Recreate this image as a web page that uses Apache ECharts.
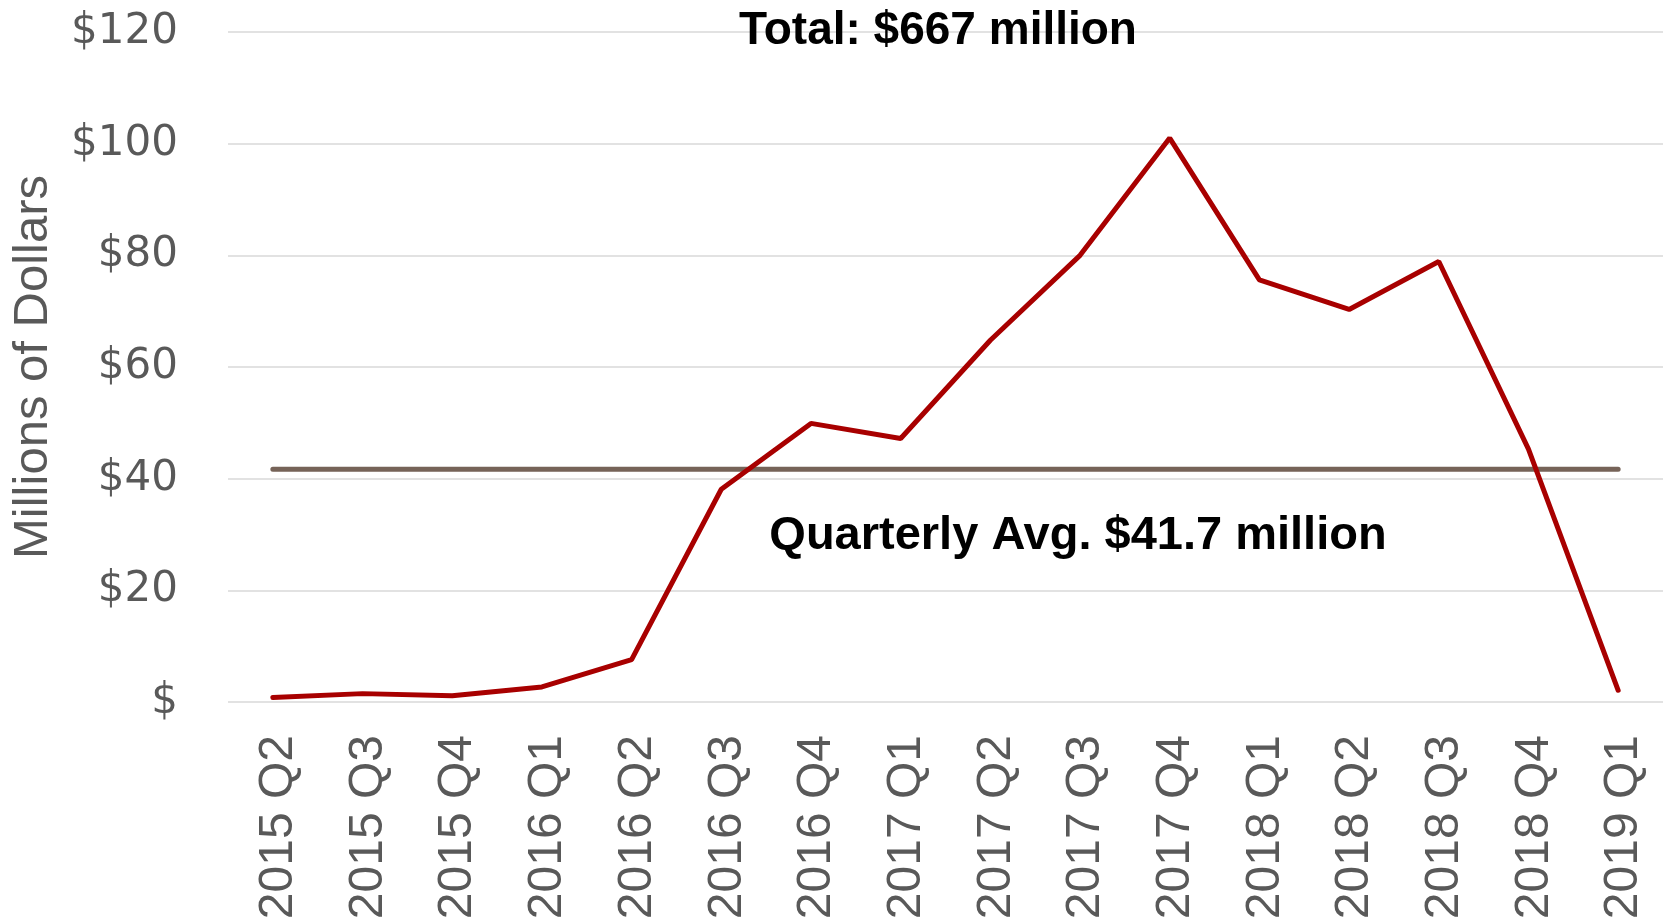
<!DOCTYPE html>
<html>
<head>
<meta charset="utf-8">
<script src="https://cdn.jsdelivr.net/npm/echarts@6/dist/echarts.min.js"></script>
<style>
  html, body { margin: 0; padding: 0; background: #fff; }
  #chart { width: 1668px; height: 920px; }
</style>
</head>
<body>
<div id="chart"></div>
<script>
const quarters = [
    '2015 Q2', '2015 Q3', '2015 Q4', '2016 Q1', '2016 Q2', '2016 Q3', '2016 Q4', '2017 Q1',
    '2017 Q2', '2017 Q3', '2017 Q4', '2018 Q1', '2018 Q2', '2018 Q3', '2018 Q4', '2019 Q1',
];
// millions of dollars per quarter
const amounts = [0.8, 1.5, 1.1, 2.7, 7.6, 38.1, 49.9, 47.2, 64.8, 80.0, 101.0, 75.6, 70.3, 78.9, 45.3, 2.1];
const quarterlyAvg = 41.7;
const totalText = 'Total: $667 million';
const avgText = 'Quarterly Avg. $41.7 million';

const labelColor = '#595959';

const option = {
    animation: false,
    grid: {
        left: 228,
        right: 5,
        top: 32,
        bottom: 218,
        outerBoundsMode: 'none',
    },
    xAxis: {
        type: 'category',
        data: quarters,
        boundaryGap: true,
        axisLine: { show: false },
        axisTick: { show: false },
        axisLabel: {
            rotate: 90,
            margin: 33,
            interval: 0,
            verticalAlign: 'top',
            lineHeight: 12,
            color: labelColor,
            fontFamily: 'Liberation Sans',
            fontSize: 48,
        },
    },
    yAxis: {
        type: 'value',
        min: 0,
        max: 120,
        interval: 20,
        name: 'Millions of Dollars',
        nameLocation: 'middle',
        nameGap: 170,
        nameRotate: 90,
        nameTextStyle: {
            color: labelColor,
            fontFamily: 'Liberation Sans',
            fontSize: 49,
        },
        axisLine: { show: false },
        axisTick: { show: false },
        axisLabel: {
            margin: 50,
            color: labelColor,
            fontFamily: 'DejaVu Sans',
            fontSize: 42,
            formatter: (v) => (v === 0 ? '$' : '$' + v),
        },
        splitLine: { lineStyle: { color: '#d9d9d9', width: 1.5 } },
    },
    series: [
        {
            name: 'Quarterly Avg.',
            type: 'line',
            data: quarters.map(() => quarterlyAvg),
            symbol: 'none',
            lineStyle: { color: '#766358', width: 5, cap: 'round' },
            z: 2,
        },
        {
            name: 'Amount',
            type: 'line',
            data: amounts,
            symbol: 'none',
            lineStyle: { color: '#A80000', width: 5, cap: 'round' },
            z: 3,
        },
    ],
    graphic: [
        {
            type: 'text',
            x: 938,
            y: 31,
            z: 10,
            style: {
                text: totalText,
                align: 'center',
                verticalAlign: 'middle',
                fill: '#000',
                fontFamily: 'Liberation Sans',
                fontWeight: 'bold',
                fontSize: 46,
            },
        },
        {
            type: 'text',
            x: 1078,
            y: 536,
            z: 10,
            style: {
                text: avgText,
                align: 'center',
                verticalAlign: 'middle',
                fill: '#000',
                fontFamily: 'Liberation Sans',
                fontWeight: 'bold',
                fontSize: 47,
            },
        },
    ],
};

const myChart = echarts.init(document.getElementById('chart'));
myChart.setOption(option);
</script>
</body>
</html>
